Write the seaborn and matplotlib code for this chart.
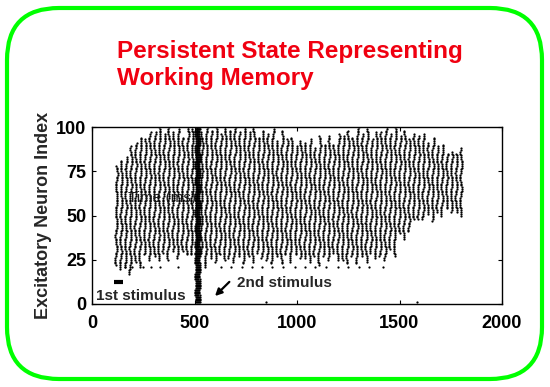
from matplotlib.patches import FancyBboxPatch
from matplotlib.transforms import IdentityTransform
import matplotlib.pyplot as plt
import numpy as np
import pandas as pd
import seaborn as sns


# Envelope of the persistent activity (ms / neuron index).
bloco_inicio = [120, 150, 200, 250, 300, 350, 400, 450, 535, 600, 650, 700,
                750, 800, 850, 900, 950, 1000, 1050, 1100, 1150, 1200, 1250,
                1300, 1350, 1400, 1450, 1500, 1550, 1600, 1650, 1700, 1750]
bloco_fim = 1815
limite_inferior = [22, 20, 22, 25, 27, 28, 27, 28, 24, 25, 26, 26, 25, 26, 25,
                   26, 25, 26, 26, 25, 26, 25, 26, 25, 26, 27, 30, 38, 48, 50,
                   50, 51, 52]
limite_superior = [78, 85, 92, 96, 97, 98, 97, 99, 99, 99, 98, 99, 98, 97, 96,
                   94, 92, 91, 90, 91, 93, 95, 96, 97, 96, 97, 98, 96, 95, 93,
                   90, 88, 85]

# Rhythm of the travelling waves and ragged edges of each wave.
periodo_onda = 23
borda_superior = [0, 3, -2, 4, -1, 2, -3, 1]
borda_inferior = [0, -2, 1, -3, 2, -1, 3, 0]

# Second stimulus: dense volley across the whole population.
estimulo2_tempos = [505, 510, 515, 520, 525]
estimulo2_neuronios = (1, 100)

# Isolated spikes below the persistent band.
isolados_t = [160, 195, 250, 290, 330, 420, 630, 680, 730, 780, 830, 880,
              930, 990, 1040, 1090, 1140, 1200, 1250, 1300, 1350, 1420]
isolados_n = [21] * len(isolados_t)
extras_t = [851, 1584]
extras_n = [1.3, 1.3]

# Marker of the first stimulus.
estimulo1_t = [105, 150]
estimulo1_n = [12.7, 12.7]

XTICKS = [0, 500, 1000, 1500, 2000]
YTICKS = [0, 25, 50, 75, 100]


def montar_spikes():
    tempos, neuronios = [], []
    ondas = np.arange(bloco_inicio[0], bloco_fim, periodo_onda)
    for k, T in enumerate(ondas):
        i = np.searchsorted(bloco_inicio, T, side="right") - 1
        lo = limite_inferior[i] + borda_inferior[k % len(borda_inferior)]
        hi = min(100, limite_superior[i] + borda_superior[k % len(borda_superior)])
        n = np.arange(lo, hi + 1)
        desloc = 4.0 * np.sin(n * 0.45 + k) + 0.08 * (n - 60)
        tempos.extend(T + desloc)
        neuronios.extend(n)
    for T in estimulo2_tempos:
        n = np.arange(estimulo2_neuronios[0], estimulo2_neuronios[1] + 1)
        tempos.extend(T + 1.5 * np.sin(n * 0.7))
        neuronios.extend(n)
    tempos.extend(isolados_t + extras_t)
    neuronios.extend(isolados_n + extras_n)
    return pd.DataFrame({"tempo": tempos, "neuronio": neuronios})


sns.set_theme(style="ticks")
plt.rcParams["font.family"] = ["Liberation Sans", "DejaVu Sans"]

fig = plt.figure(figsize=(5.5, 3.87), dpi=100)
ax = fig.add_axes([92 / 550, 1 - 304 / 387, 410 / 550, 177 / 387])

spikes = montar_spikes()
sns.scatterplot(data=spikes, x="tempo", y="neuronio", ax=ax, color="black",
                marker="o", s=2.6, linewidth=0, zorder=2, legend=False)

ax.text(340, 60, "Time (ms)", fontsize=11, color="#1a1a1a",
        ha="center", va="center", zorder=3)

ax.plot(estimulo1_t, estimulo1_n, color="black", lw=3, solid_capstyle="butt")
ax.text(20, 4.5, "1st stimulus", fontsize=11, fontweight="bold",
        ha="left", va="center")
ax.text(707, 12, "2nd stimulus", fontsize=11, fontweight="bold",
        ha="left", va="center")
ax.annotate("", xy=(600, 4.5), xytext=(670, 12.5),
            arrowprops=dict(arrowstyle="-|>", color="black", lw=1.6,
                            shrinkA=0, shrinkB=0, mutation_scale=10))

ax.set_xlim(0, 2000)
ax.set_ylim(0, 100)
ax.set_xticks(XTICKS)
ax.set_yticks(YTICKS)
ax.set_xlabel("")
ax.set_ylabel("Excitatory Neuron Index", fontsize=13, fontweight="bold",
              labelpad=3)
ax.tick_params(direction="in", length=3, width=0.8, top=True, right=True,
               labelsize=13, colors="black")
ax.tick_params(axis="x", pad=8)
ax.tick_params(axis="y", pad=4)
for rotulo in ax.get_xticklabels() + ax.get_yticklabels():
    rotulo.set_fontweight("bold")
for spine in ax.spines.values():
    spine.set_visible(True)
    spine.set_linewidth(1.0)
    spine.set_color("black")

fig.text(117 / 550, 1 - 40 / 387,
         "Persistent State Representing\nWorking Memory",
         fontsize=17.5, fontweight="bold", color="#f00010",
         ha="left", va="top", linespacing=1.2)

borda = FancyBboxPatch((7, 8), 535, 371,
                       boxstyle="round,pad=0,rounding_size=52",
                       transform=IdentityTransform(), fill=False,
                       edgecolor="#00ff00", linewidth=3)
fig.add_artist(borda)

fig.savefig("out.png", dpi=100)
plt.close(fig)
